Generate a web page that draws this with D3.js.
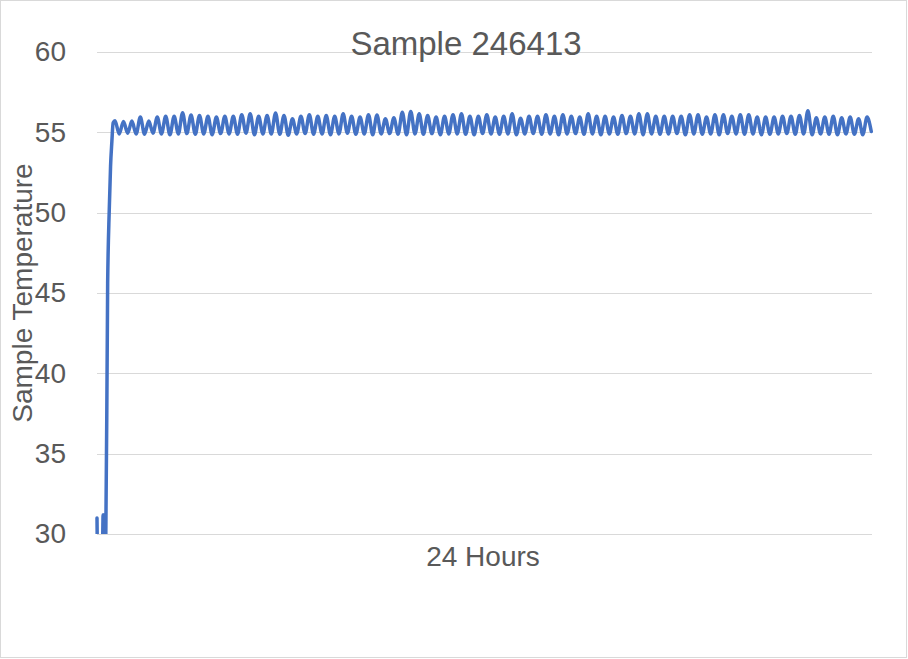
<!DOCTYPE html>
<html>
<head>
<meta charset="utf-8">
<script src="https://cdn.jsdelivr.net/npm/d3@7"></script>
<style>
  html, body { margin: 0; padding: 0; background: #ffffff; }
  svg { display: block; }
  text { font-family: "Liberation Sans", Arial, sans-serif; fill: #595959; }
</style>
</head>
<body>
<div id="chart"></div>
<script>
// ---------- data ----------
const chartTitle = "Sample 246413";
const xAxisTitle = "24 Hours";
const yAxisTitle = "Sample Temperature";
const yTicks = [30, 35, 40, 45, 50, 55, 60];

// start-up phase (hours, temperature)
const startHours = [0, 0.05, 0.15, 0.19, 0.23, 0.265, 0.33, 0.38, 0.42, 0.46, 0.50];
const startTemps = [31.0, 25.0, 25.0, 31.2, 31.1, 28.0, 45.6, 50.2, 52.9, 54.4, 55.6];

// regulated phase: alternating peaks / troughs on a regular time grid
const waveStartHour = 0.5574;
const waveStepHour = 0.13084;
const peakTemps = [
  55.72, 55.68, 55.70, 55.95, 55.70, 55.95, 56.00, 56.00, 56.22, 56.08,
  56.05, 56.00, 55.95, 56.00, 56.00, 56.10, 56.15, 56.00, 56.05, 56.20,
  56.05, 55.85, 56.00, 56.10, 56.00, 56.05, 56.00, 56.15, 56.00, 55.95,
  56.10, 56.08, 55.85, 55.90, 56.25, 56.30, 56.15, 56.05, 55.95, 56.00,
  56.10, 56.15, 56.00, 56.00, 56.10, 55.95, 56.00, 56.15, 55.88, 56.00,
  56.00, 56.10, 56.00, 56.10, 56.00, 55.95, 56.15, 56.00, 56.00, 55.95,
  56.05, 56.00, 56.15, 56.15, 56.00, 56.00, 56.00, 56.00, 56.10, 56.10,
  55.95, 56.10, 56.10, 56.00, 56.10, 56.10, 55.95, 55.95, 55.95, 56.00,
  56.00, 56.05, 56.35, 55.90, 55.95, 56.00, 55.90, 55.95, 55.85, 55.95
];
const troughTemps = [
  54.90, 54.95, 54.90, 54.88, 54.95, 54.90, 54.85, 54.90, 54.92, 54.88,
  54.90, 54.85, 54.92, 54.90, 54.88, 54.95, 54.85, 54.90, 54.90, 54.88,
  54.82, 54.90, 54.92, 54.88, 54.90, 54.85, 54.90, 54.95, 54.88, 54.90,
  54.85, 54.90, 54.92, 54.88, 54.85, 54.90, 54.88, 54.92, 54.85, 54.90,
  54.90, 54.88, 54.85, 54.92, 54.90, 54.88, 54.90, 54.85, 54.90, 54.92,
  54.88, 54.90, 54.85, 54.90, 54.92, 54.88, 54.90, 54.85, 54.90, 54.88,
  54.92, 54.90, 54.85, 54.90, 54.88, 54.90, 54.92, 54.85, 54.90, 54.88,
  54.90, 54.85, 54.92, 54.90, 54.88, 54.90, 54.85, 54.88, 54.90, 54.92,
  54.88, 54.90, 54.85, 54.90, 54.88, 54.85, 54.90, 54.88, 54.85, 55.05
];

// ---------- build series ----------
const series = startHours.map((h, i) => ({ h, t: startTemps[i] }));
peakTemps.forEach((p, i) => {
  series.push({ h: waveStartHour + (2 * i) * waveStepHour, t: p });
  series.push({ h: waveStartHour + (2 * i + 1) * waveStepHour, t: troughTemps[i] });
});

// ---------- layout ----------
const W = 908, H = 659;
const plot = { left: 97, right: 872, top: 52, bottom: 534 };

const svg = d3.select("#chart").append("svg")
  .attr("width", W).attr("height", H);

svg.append("rect")
  .attr("x", 0.5).attr("y", 0.5)
  .attr("width", W - 2).attr("height", H - 2)
  .attr("fill", "#ffffff").attr("stroke", "#d9d9d9").attr("stroke-width", 1);

const x = d3.scaleLinear().domain([0, 24]).range([plot.left, plot.right]);
const y = d3.scaleLinear().domain([30, 60]).range([plot.bottom, plot.top]);

// gridlines + tick labels via axis
const yAxis = d3.axisLeft(y)
  .tickValues(yTicks)
  .tickSize(-(plot.right - plot.left))
  .tickPadding(31)
  .tickFormat(d3.format("d"));

const gy = svg.append("g")
  .attr("transform", `translate(${plot.left},0)`)
  .call(yAxis);
gy.select(".domain").remove();
gy.selectAll(".tick line")
  .attr("stroke", "#d9d9d9").attr("stroke-width", 1)
  .attr("shape-rendering", "crispEdges");
gy.selectAll(".tick text")
  .attr("font-size", 28)
  .attr("font-family", "'Liberation Sans', Arial, sans-serif")
  .attr("fill", "#595959");

// clip for the line
svg.append("clipPath").attr("id", "plotClip")
  .append("rect")
  .attr("x", plot.left - 10).attr("y", 0)
  .attr("width", plot.right - plot.left + 20)
  .attr("height", plot.bottom);

const line = d3.line()
  .x(d => x(d.h))
  .y(d => y(d.t))
  .curve(d3.curveMonotoneX);

svg.append("path")
  .datum(series)
  .attr("clip-path", "url(#plotClip)")
  .attr("fill", "none")
  .attr("stroke", "#4472C4")
  .attr("stroke-width", 3.5)
  .attr("stroke-linejoin", "round")
  .attr("stroke-linecap", "round")
  .attr("d", line);

// titles
svg.append("text")
  .attr("x", 466).attr("y", 55)
  .attr("text-anchor", "middle")
  .attr("font-size", 33)
  .text(chartTitle);

svg.append("text")
  .attr("x", 483).attr("y", 566)
  .attr("text-anchor", "middle")
  .attr("font-size", 28)
  .text(xAxisTitle);

svg.append("text")
  .attr("transform", "translate(32,293) rotate(-90)")
  .attr("text-anchor", "middle")
  .attr("font-size", 28)
  .text(yAxisTitle);
</script>
</body>
</html>
